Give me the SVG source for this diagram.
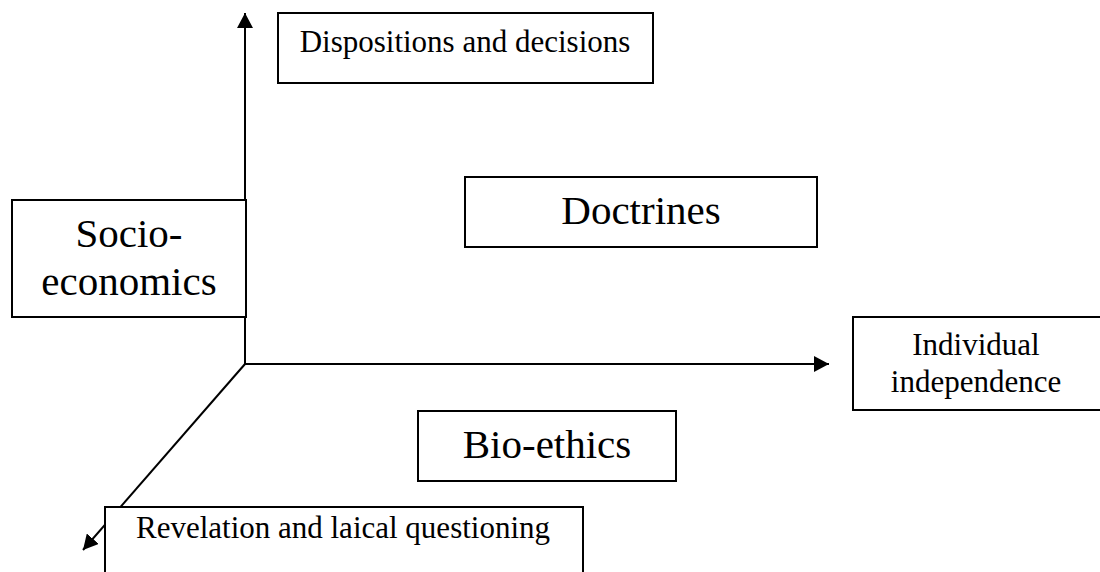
<svg xmlns="http://www.w3.org/2000/svg" width="1100" height="572" viewBox="0 0 1100 572">
<style>
.box{fill:#fff;stroke:#000;stroke-width:2}
.ax{stroke:#000;stroke-width:2;fill:none}
.t{font-family:"Liberation Serif","Times New Roman",serif;fill:#000;text-anchor:middle}
.s{font-size:31px}
.l{font-size:41px}
</style>
<defs>
<marker id="ah" viewBox="0 0 15 16" refX="15" refY="8" markerWidth="15" markerHeight="16" markerUnits="userSpaceOnUse" orient="auto">
<path d="M0,0 L15,8 L0,16 Z" fill="#000"/>
</marker>
</defs>
<g id="connectors">
<line class="ax" x1="245" y1="364" x2="245" y2="13" marker-end="url(#ah)"/>
<line class="ax" x1="245" y1="364" x2="829" y2="364" marker-end="url(#ah)"/>
<line class="ax" x1="245" y1="364" x2="83" y2="550" marker-end="url(#ah)"/>
</g>
<g id="dispositions">
<rect class="box" x="278" y="13" width="375" height="70"/>
<text class="t s" x="465" y="52">Dispositions and decisions</text>
</g>
<g id="socio">
<rect class="box" x="12" y="200" width="234" height="117"/>
<text class="t l" x="129" y="247">Socio-</text>
<text class="t l" x="129" y="295">economics</text>
</g>
<g id="doctrines">
<rect class="box" x="465" y="177" width="352" height="70"/>
<text class="t l" x="641" y="224">Doctrines</text>
</g>
<g id="individual">
<rect class="box" x="853" y="317" width="260" height="93"/>
<text class="t s" x="976" y="355">Individual</text>
<text class="t s" x="976" y="392">independence</text>
</g>
<g id="bioethics">
<rect class="box" x="418" y="411" width="258" height="70"/>
<text class="t l" x="547" y="458">Bio-ethics</text>
</g>
<g id="revelation">
<rect class="box" x="105" y="507" width="478" height="80"/>
<text class="t s" x="343" y="538">Revelation and laical questioning</text>
</g>
</svg>
